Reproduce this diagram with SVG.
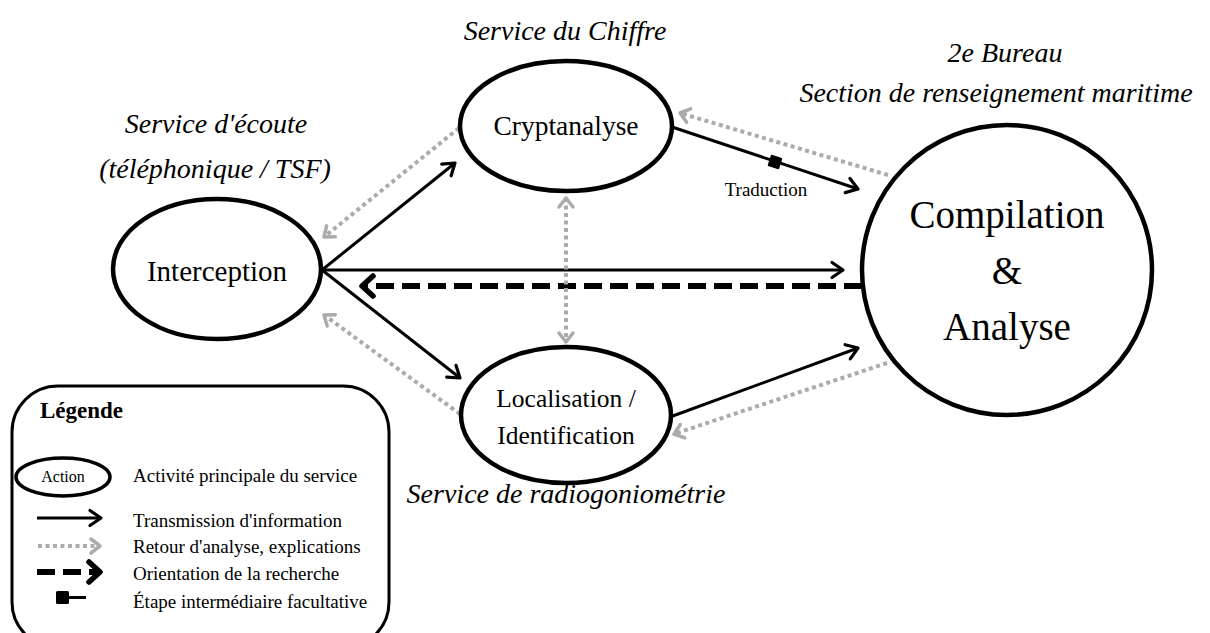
<svg xmlns="http://www.w3.org/2000/svg" width="1210" height="633" viewBox="0 0 1210 633" font-family="'Liberation Serif', 'Times New Roman', serif">
<style>
text{font-family:'Liberation Serif','Times New Roman',serif;fill:#000}
.it{font-style:italic;font-size:28px}
.node{fill:#fff;stroke:#000;stroke-width:4.5}
.solid{stroke:#000;stroke-width:3;fill:none}
.dot{stroke:#ababab;stroke-width:4;fill:none;stroke-dasharray:4 3.5}
.dash{stroke:#000;stroke-width:6;fill:none;stroke-dasharray:18 8}
.lg{font-size:19px}
</style>
<defs>
<marker id="aB" markerUnits="userSpaceOnUse" viewBox="-20 -20 40 40" markerWidth="40" markerHeight="40" refX="0" refY="0" orient="auto" overflow="visible">
<path d="M-11,-7.5 L0,0 L-11,7.5" fill="none" stroke="#000" stroke-width="3.2" stroke-linecap="round" stroke-linejoin="round"/>
</marker>
<marker id="aG" markerUnits="userSpaceOnUse" viewBox="-20 -20 40 40" markerWidth="40" markerHeight="40" refX="0" refY="0" orient="auto" overflow="visible">
<path d="M-9,-7 L0,0 L-9,7" fill="none" stroke="#ababab" stroke-width="3.5" stroke-linecap="round" stroke-linejoin="round"/>
</marker>
<marker id="aGs" markerUnits="userSpaceOnUse" viewBox="-20 -20 40 40" markerWidth="40" markerHeight="40" refX="0" refY="0" orient="auto-start-reverse" overflow="visible">
<path d="M-9,-7 L0,0 L-9,7" fill="none" stroke="#ababab" stroke-width="3.5" stroke-linecap="round" stroke-linejoin="round"/>
</marker>
<marker id="aD" markerUnits="userSpaceOnUse" viewBox="-20 -20 40 40" markerWidth="40" markerHeight="40" refX="0" refY="0" orient="auto" overflow="visible">
<path d="M-11,-10 L0,0 L-11,10" fill="none" stroke="#000" stroke-width="5.5" stroke-linecap="round" stroke-linejoin="round"/>
</marker>
</defs>

<g id="connectors">
<line class="solid" x1="322" y1="270" x2="455" y2="163" marker-end="url(#aB)"/>
<line class="solid" x1="322" y1="270" x2="843" y2="270" marker-end="url(#aB)"/>
<line class="solid" x1="322" y1="270" x2="460" y2="378" marker-end="url(#aB)"/>
<line class="dash" x1="862" y1="286" x2="362" y2="286" marker-end="url(#aD)"/>
<line class="solid" x1="672" y1="127" x2="858" y2="189" marker-end="url(#aB)"/>
<rect x="769" y="156" width="12" height="12" rx="1.5" fill="#000" transform="rotate(18.4 775 162)"/>
<text x="766" y="196" font-size="19" text-anchor="middle">Traduction</text>
<line class="solid" x1="670" y1="417" x2="858" y2="348" marker-end="url(#aB)"/>
<line class="dot" x1="888" y1="175" x2="680" y2="113" marker-end="url(#aG)"/>
<line class="dot" x1="459" y1="128" x2="324" y2="237" marker-end="url(#aG)"/>
<line class="dot" x1="460" y1="414" x2="324" y2="315" marker-end="url(#aG)"/>
<line class="dot" x1="887" y1="363" x2="674" y2="434" marker-end="url(#aG)"/>
<line class="dot" x1="566" y1="198" x2="566" y2="342" marker-start="url(#aGs)" marker-end="url(#aGs)"/>
</g>

<g id="node-interception">
<ellipse class="node" cx="217" cy="269" rx="104" ry="70"/>
<text x="217" y="281" font-size="29" text-anchor="middle">Interception</text>
<text class="it" x="216" y="133" text-anchor="middle">Service d'écoute</text>
<text class="it" x="215" y="178" text-anchor="middle">(téléphonique / TSF)</text>
</g>

<g id="node-cryptanalyse">
<ellipse class="node" cx="566" cy="126" rx="106" ry="65"/>
<text x="566" y="135" font-size="27.5" text-anchor="middle">Cryptanalyse</text>
<text class="it" x="565" y="40" text-anchor="middle">Service du Chiffre</text>
</g>

<g id="node-localisation">
<ellipse class="node" cx="566" cy="415" rx="105" ry="68"/>
<text x="566" y="407" font-size="25.5" text-anchor="middle">Localisation /</text>
<text x="566" y="444" font-size="25.5" text-anchor="middle">Identification</text>
<text class="it" x="566" y="503" text-anchor="middle">Service de radiogoniométrie</text>
</g>

<g id="node-compilation">
<circle class="node" cx="1007" cy="270" r="145"/>
<text x="1007" y="228" font-size="39" text-anchor="middle">Compilation</text>
<text x="1007" y="284" font-size="39" text-anchor="middle">&amp;</text>
<text x="1007" y="340" font-size="39" text-anchor="middle">Analyse</text>
<text class="it" x="1005" y="62" text-anchor="middle">2e Bureau</text>
<text class="it" x="996" y="102" text-anchor="middle">Section de renseignement maritime</text>
</g>

<g id="legend">
<rect x="12" y="386" width="377" height="262" rx="46" ry="46" fill="#fff" stroke="#000" stroke-width="3"/>
<text x="40" y="418" font-size="23" font-weight="bold">Légende</text>
<ellipse cx="63" cy="477" rx="47" ry="19" fill="#fff" stroke="#000" stroke-width="3.5"/>
<text x="63" y="482" font-size="16" text-anchor="middle">Action</text>
<text class="lg" x="133" y="482">Activité principale du service</text>
<line class="solid" x1="37" y1="518" x2="101" y2="518" marker-end="url(#aB)"/>
<text class="lg" x="133" y="527">Transmission d'information</text>
<line class="dot" x1="38" y1="546" x2="100" y2="546" stroke-width="3" marker-end="url(#aG)"/>
<text class="lg" x="133" y="553">Retour d'analyse, explications</text>
<line class="dash" x1="37" y1="572" x2="100" y2="572" stroke-dasharray="13 7" marker-end="url(#aD)"/>
<text class="lg" x="133" y="580">Orientation de la recherche</text>
<rect x="56" y="591" width="13" height="13" rx="1.5" fill="#000"/>
<line x1="68" y1="597.5" x2="86" y2="597.5" stroke="#000" stroke-width="3"/>
<text class="lg" x="133" y="608">Étape intermédiaire facultative</text>
</g>
</svg>
